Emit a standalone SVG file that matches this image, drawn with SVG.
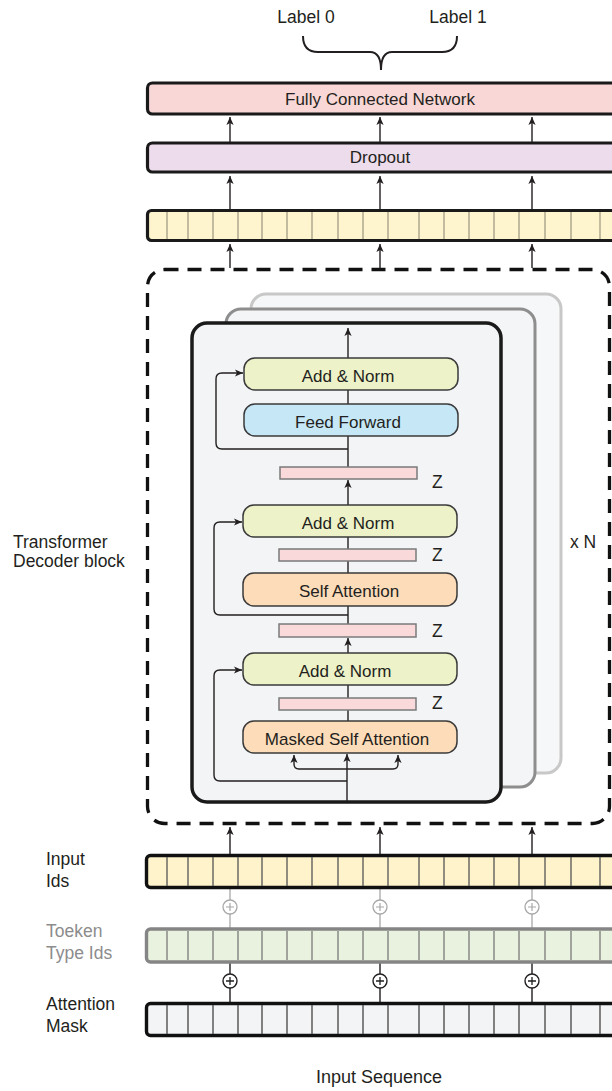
<svg xmlns="http://www.w3.org/2000/svg" width="612" height="1091" viewBox="0 0 612 1091">
<defs>
<style>
text{font-family:"Liberation Sans",Arial,sans-serif;fill:#231f20;}
.lbl{font-size:17.5px;}
.box{font-size:17px;text-anchor:middle;}
.side{font-size:17.5px;}
.ln{fill:none;stroke:#231f20;stroke-width:1.4;}
.arr{fill:none;stroke:#231f20;stroke-width:1.4;marker-end:url(#ah);}
.an{fill:#eef2c8;stroke:#3a3a3a;stroke-width:1.5;}
.ff{fill:#c6e7f6;stroke:#3a3a3a;stroke-width:1.5;}
.sa{fill:#fddcb9;stroke:#3a3a3a;stroke-width:1.5;}
.z{fill:#f9d9d9;stroke:#7a7a7a;stroke-width:1.5;}
.div{stroke-width:1.3;}
</style>
<marker id="ah" viewBox="0 0 10 10" refX="10" refY="5" markerWidth="8" markerHeight="8" markerUnits="userSpaceOnUse" orient="auto-start-reverse">
<path d="M0,0.5 L10,5 L0,9.5 L2.5,5 z" fill="#231f20"/>
</marker>
</defs>
<rect width="612" height="1091" fill="#ffffff"/>

<g id="labels-top">
<text class="lbl" x="306" y="23" text-anchor="middle">Label 0</text>
<text class="lbl" x="458" y="23" text-anchor="middle">Label 1</text>
<path d="M303,36 Q303,52 318,52 L370,52 Q381,52 381,70 Q381,52 392,52 L442,52 Q457,52 457,36" fill="none" stroke="#231f20" stroke-width="2"/>
</g>

<g id="fcn">
<rect x="147.5" y="83" width="470" height="31" rx="5" fill="#f8d7d6" stroke="#1a1a1a" stroke-width="3.2"/>
<text class="box" x="380" y="105">Fully Connected Network</text>
</g>
<g id="dropout">
<rect x="147.5" y="143" width="470" height="29" rx="5" fill="#eddcec" stroke="#1a1a1a" stroke-width="3.2"/>
<text class="box" x="380" y="163">Dropout</text>
</g>
<g id="output-embeddings">
<rect x="147.5" y="210.5" width="470" height="30" rx="4" fill="#fef4cd" stroke="#1a1a1a" stroke-width="3.2"/>
<g stroke="#a39d86" class="div">
<path d="M167,212V239M188,212V239M213,212V239M238,212V239M262,212V239M287,212V239M312,212V239M338,212V239M363,212V239M388,212V239M419,212V239M444,212V239M469,212V239M494,212V239M519,212V239M545,212V239M571,212V239M600,212V239"/>
</g>
</g>

<g id="decoder-block">
<rect x="147.5" y="269.5" width="462" height="554" rx="17" fill="none" stroke="#111" stroke-width="3.3" stroke-dasharray="14 9"/>
<text class="side" x="13" y="548">Transformer</text>
<text class="side" x="13" y="567">Decoder block</text>
<text class="side" x="570" y="548">x N</text>
</g>

<g id="card-back">
<rect x="251" y="294" width="310" height="479" rx="15" fill="#f6f7f8" stroke="#c8c8c8" stroke-width="3"/>
</g>
<g id="card-middle">
<rect x="226" y="309" width="309" height="478" rx="15" fill="#f4f5f7" stroke="#8e8e8e" stroke-width="3"/>
</g>
<g id="card-front">
<rect x="192" y="323" width="309" height="479" rx="15" fill="#f3f4f6" stroke="#1a1a1a" stroke-width="3.5"/>
</g>

<g id="connectors">
<path class="arr" d="M230,142V117"/>
<path class="arr" d="M380,142V117"/>
<path class="arr" d="M532,142V117"/>
<path class="arr" d="M230,209V176"/>
<path class="arr" d="M380,209V176"/>
<path class="arr" d="M532,209V176"/>
<path class="arr" d="M230,268V244"/>
<path class="arr" d="M380,268V244"/>
<path class="arr" d="M532,268V244"/>

<path class="arr" d="M348,358V328"/>
<path class="ln" d="M348,390V404"/>
<path class="ln" d="M348,436V467"/>
<path class="arr" d="M348,505V480"/>
<path class="ln" d="M348,537V573"/>
<path class="ln" d="M348,606V624"/>
<path class="arr" d="M348,653V638"/>
<path class="ln" d="M348,685V721"/>
<path class="arr" d="M347,802V754"/>
<path class="ln" d="M294,755V764Q294,769 299,769H393Q398,769 398,764V755" style="marker-start:url(#ah);marker-end:url(#ah)"/>

<path class="arr" d="M348,449H222Q216,449 216,443V379Q216,373 222,373H243"/>
<path class="arr" d="M348,615H220Q214,615 214,609V528Q214,522 220,522H242"/>
<path class="arr" d="M347,781H220Q214,781 214,775V676Q214,670 220,670H242"/>

<path class="arr" d="M230,854V827"/>
<path class="arr" d="M380,854V827"/>
<path class="arr" d="M532,854V827"/>
<g stroke="#a8a8a8" stroke-width="1.3" fill="none">
<path d="M230,888V900M230,914V928M380,888V900M380,914V928M532,888V900M532,914V928"/>
</g>
<path class="ln" d="M230,963V974M230,988V1002M380,963V974M380,988V1002M532,963V974M532,988V1002"/>
</g>

<g id="add-norm-1">
<rect class="an" x="244" y="358" width="214" height="32" rx="11"/>
<text class="box" x="348" y="382">Add &amp; Norm</text>
</g>
<g id="feed-forward">
<rect class="ff" x="244" y="404" width="214" height="32" rx="11"/>
<text class="box" x="348" y="428">Feed Forward</text>
</g>
<g id="z1">
<rect class="z" x="280" y="467" width="137" height="12"/>
<text class="side" x="432" y="488">Z</text>
</g>
<g id="add-norm-2">
<rect class="an" x="243" y="505" width="214" height="32" rx="11"/>
<text class="box" x="348" y="529">Add &amp; Norm</text>
</g>
<g id="z2">
<rect class="z" x="279" y="549" width="137" height="12"/>
<text class="side" x="432" y="561">Z</text>
</g>
<g id="self-attention">
<rect class="sa" x="243" y="573" width="214" height="33" rx="11"/>
<text class="box" x="349" y="597">Self Attention</text>
</g>
<g id="z3">
<rect class="z" x="279" y="624" width="137" height="13"/>
<text class="side" x="432" y="637">Z</text>
</g>
<g id="add-norm-3">
<rect class="an" x="243" y="653" width="214" height="32" rx="11"/>
<text class="box" x="345" y="677">Add &amp; Norm</text>
</g>
<g id="z4">
<rect class="z" x="279" y="698" width="137" height="12"/>
<text class="side" x="432" y="709">Z</text>
</g>
<g id="masked-self-attention">
<rect class="sa" x="243" y="721" width="214" height="32" rx="11"/>
<text class="box" x="347" y="745">Masked Self Attention</text>
</g>

<g id="input-ids">
<rect x="146.5" y="855.5" width="470" height="32" rx="4" fill="#fef3cb" stroke="#111" stroke-width="3.4"/>
<path stroke="#555" class="div" d="M167,857V886M188,857V886M213,857V886M238,857V886M262,857V886M287,857V886M312,857V886M338,857V886M363,857V886M388,857V886M419,857V886M444,857V886M469,857V886M494,857V886M519,857V886M545,857V886M571,857V886M600,857V886"/>
<text class="side" x="46" y="865">Input</text>
<text class="side" x="46" y="887">Ids</text>
</g>
<g id="plus-light">
<g fill="#ffffff" stroke="#a8a8a8" stroke-width="1.3">
<circle cx="230" cy="907" r="7"/><circle cx="380" cy="907" r="7"/><circle cx="532" cy="907" r="7"/>
</g>
<path stroke="#a8a8a8" stroke-width="1.2" d="M226,907H234M230,903V911M376,907H384M380,903V911M528,907H536M532,903V911"/>
</g>
<g id="token-type-ids">
<rect x="146.5" y="929" width="470" height="33" rx="4" fill="#e8f2de" stroke="#858585" stroke-width="3.4"/>
<path stroke="#7a7a7a" class="div" d="M167,931V960M188,931V960M213,931V960M238,931V960M262,931V960M287,931V960M312,931V960M338,931V960M363,931V960M388,931V960M419,931V960M444,931V960M469,931V960M494,931V960M519,931V960M545,931V960M571,931V960M600,931V960"/>
<text class="side" x="46" y="937" style="fill:#8c8c8c">Toeken</text>
<text class="side" x="46" y="959" style="fill:#8c8c8c">Type Ids</text>
</g>
<g id="plus-dark">
<g fill="#ffffff" stroke="#231f20" stroke-width="1.4">
<circle cx="230" cy="981" r="7"/><circle cx="380" cy="981" r="7"/><circle cx="532" cy="981" r="7"/>
</g>
<path stroke="#231f20" stroke-width="1.3" d="M226,981H234M230,977V985M376,981H384M380,977V985M528,981H536M532,977V985"/>
</g>
<g id="attention-mask">
<rect x="146.5" y="1003.5" width="470" height="32" rx="4" fill="#f3f4f6" stroke="#111" stroke-width="3.4"/>
<path stroke="#444" class="div" d="M167,1005V1034M188,1005V1034M213,1005V1034M238,1005V1034M262,1005V1034M287,1005V1034M312,1005V1034M338,1005V1034M363,1005V1034M388,1005V1034M419,1005V1034M444,1005V1034M469,1005V1034M494,1005V1034M519,1005V1034M545,1005V1034M571,1005V1034M600,1005V1034"/>
<text class="side" x="46" y="1010">Attention</text>
<text class="side" x="46" y="1032">Mask</text>
</g>
<g id="input-sequence">
<text class="side" x="379" y="1083" text-anchor="middle" style="font-size:18px">Input Sequence</text>
</g>
</svg>
